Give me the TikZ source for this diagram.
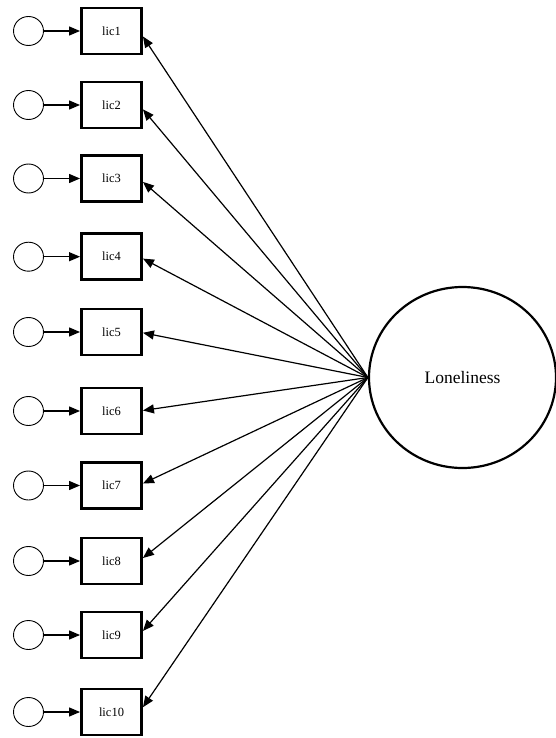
\documentclass[tikz,border=0pt]{standalone}
\usepackage{fontspec}
\setmainfont{Liberation Serif}
\usetikzlibrary{arrows.meta,calc,shapes.geometric}
\begin{document}
\begin{tikzpicture}[x=1pt,y=-1pt,
  indicator/.style={draw,line width=2.9pt,minimum width=60pt,minimum height=46pt,
    inner sep=0pt,font=\fontsize{12.5}{14}\selectfont},
  errterm/.style={draw,ellipse,line width=0.9pt,minimum width=30pt,minimum height=29pt,inner sep=0pt},
  latent/.style={draw,ellipse,line width=2.2pt,minimum width=187pt,minimum height=181pt,
    inner sep=0pt,font=\fontsize{17.5}{20}\selectfont},
  path arrow/.style={line width=1.2pt,-{Triangle[length=11pt,width=9pt]}}]
\useasboundingbox (0,0) rectangle (556,738);

% latent factor
\node[latent] (lon) at (462.5,377.5) {Loneliness};
\coordinate (src) at (lon.west);

% indicators with their error terms and loadings
\foreach \i/\yc/\off in {1/31/5.5, 2/105/4.4, 3/178.5/3.4, 4/256.7/1.9, 5/332/0.8,
                          6/411/-0.5, 7/485.5/-2, 8/561/-3, 9/635/-4.1, 10/712/-4.8} {
  \node[indicator] (lic\i) at (111.5,\yc) {lic\i};
  \node[errterm] (e\i) at (28.5,\yc) {};
  \draw[path arrow] (e\i) -- (lic\i);
  \draw[path arrow] (src) -- ($(lic\i.east)+(0,\off)$);
}
\end{tikzpicture}
\end{document}
